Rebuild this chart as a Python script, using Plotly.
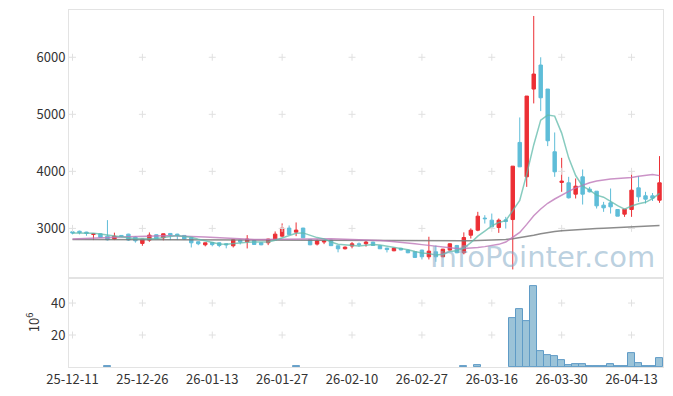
import pandas as pd
import plotly.graph_objects as go
from plotly.subplots import make_subplots

dates = [
    "2025-12-11", "2025-12-12", "2025-12-15", "2025-12-16", "2025-12-17", "2025-12-18", "2025-12-19",
    "2025-12-22", "2025-12-23", "2025-12-24", "2025-12-26", "2025-12-29", "2025-12-30",
    "2026-01-02", "2026-01-05", "2026-01-06", "2026-01-07", "2026-01-08", "2026-01-09",
    "2026-01-12", "2026-01-13", "2026-01-14", "2026-01-15", "2026-01-16", "2026-01-19",
    "2026-01-20", "2026-01-21", "2026-01-22", "2026-01-23", "2026-01-26", "2026-01-27",
    "2026-01-28", "2026-01-29", "2026-01-30", "2026-02-02", "2026-02-03", "2026-02-04",
    "2026-02-05", "2026-02-06", "2026-02-09", "2026-02-10", "2026-02-11", "2026-02-12",
    "2026-02-13", "2026-02-19", "2026-02-20", "2026-02-23", "2026-02-24", "2026-02-25",
    "2026-02-26", "2026-02-27", "2026-03-03", "2026-03-04", "2026-03-05", "2026-03-06",
    "2026-03-09", "2026-03-10", "2026-03-11", "2026-03-12", "2026-03-13", "2026-03-16",
    "2026-03-17", "2026-03-18", "2026-03-19", "2026-03-20", "2026-03-23", "2026-03-24",
    "2026-03-25", "2026-03-26", "2026-03-27", "2026-03-30", "2026-03-31", "2026-04-01",
    "2026-04-02", "2026-04-03", "2026-04-06", "2026-04-07", "2026-04-08", "2026-04-09",
    "2026-04-10", "2026-04-13", "2026-04-14", "2026-04-15", "2026-04-16", "2026-04-17",
]

open_ = [
    2940, 2950, 2935, 2893, 2905, 2864, 2812, 2876, 2899, 2847,
    2736, 2794, 2888, 2835, 2911, 2899, 2876, 2835, 2765, 2712,
    2753, 2747, 2730, 2695, 2794, 2765, 2788, 2747, 2747, 2800,
    2864, 3005, 2934, 3005, 2806, 2724, 2760, 2794, 2695, 2642,
    2690, 2730, 2730, 2759, 2695, 2654, 2607, 2650, 2619, 2589,
    2619, 2502, 2589, 2502, 2619, 2700, 2572, 2880, 2968, 3180,
    3144, 3015, 3150, 3155, 4507, 3904, 5443, 5864, 5443, 4343,
    3805, 3799, 3600, 3904, 3688, 3652, 3407, 3448, 3331, 3249,
    3331, 3711, 3571, 3571, 3494,
]
high = [
    2975, 2960, 2940, 2910, 2910, 3145, 2925, 2880, 2905, 2860,
    2815, 2929, 2895, 2910, 2915, 2905, 2880, 2840, 2770, 2750,
    2760, 2755, 2735, 2812, 2800, 2882, 2795, 2752, 2818, 2946,
    3087, 3051, 3104, 3010, 2810, 2806, 2794, 2800, 2698, 2683,
    2760, 2753, 2782, 2765, 2700, 2660, 2660, 2660, 2625, 2595,
    2625, 2853, 2700, 2640, 2736, 2710, 2930, 3000, 3290, 3231,
    3260, 3173, 3202, 4091, 4945, 5320, 6724, 6000, 5443, 4682,
    4237, 3904, 3875, 4033, 3728, 3652, 3465, 3699, 3331, 3336,
    4003, 3916, 3641, 3620, 4267,
]
low = [
    2895, 2895, 2870, 2795, 2835, 2788, 2795, 2845, 2780, 2750,
    2695, 2765, 2810, 2790, 2795, 2795, 2800, 2665, 2705, 2685,
    2685, 2670, 2650, 2665, 2718, 2648, 2712, 2705, 2706, 2795,
    2852, 2890, 2864, 2830, 2705, 2700, 2724, 2690, 2580, 2630,
    2650, 2677, 2680, 2695, 2640, 2578, 2600, 2615, 2565, 2485,
    2455, 2455, 2414, 2495, 2610, 2565, 2545, 2822, 2950, 3085,
    3000, 2921, 2997, 2280, 4079, 3728, 5191, 5056, 4442, 3904,
    3641, 3524, 3524, 3418, 3630, 3348, 3290, 3260, 3214, 3202,
    3202, 3465, 3436, 3480, 3448,
]
close = [
    2920, 2925, 2912, 2905, 2842, 2800, 2864, 2855, 2795, 2782,
    2812, 2882, 2818, 2905, 2882, 2877, 2812, 2747, 2730, 2747,
    2715, 2700, 2712, 2800, 2760, 2812, 2718, 2712, 2812, 2899,
    3005, 2893, 2970, 2835, 2712, 2782, 2780, 2697, 2642, 2671,
    2730, 2715, 2760, 2700, 2642, 2628, 2654, 2622, 2572, 2490,
    2502, 2601, 2502, 2636, 2730, 2572, 2840, 2968, 3214, 3170,
    3026, 3144, 3120, 4091, 4079, 5320, 5706, 5290, 4536, 3992,
    3829, 3536, 3740, 3600, 3641, 3395, 3360, 3378, 3214, 3336,
    3670, 3553, 3512, 3530, 3799,
]
ma20 = [
    2815, 2818, 2822, 2826, 2831, 2836, 2842, 2848, 2854, 2860,
    2864, 2868, 2871, 2872, 2872, 2870, 2866, 2860, 2854, 2847,
    2840, 2833, 2826, 2818, 2812, 2809, 2807, 2807, 2809, 2812,
    2815, 2818, 2820, 2822, 2822, 2821, 2820, 2818, 2815, 2812,
    2809, 2805, 2800, 2795, 2789, 2780, 2770, 2758, 2745, 2730,
    2715, 2700, 2684, 2668, 2655, 2647, 2645, 2652, 2665, 2680,
    2698, 2720, 2760, 2840, 2930, 3070, 3220, 3340, 3440, 3515,
    3590, 3650, 3710, 3760, 3800, 3832, 3852, 3866, 3873, 3878,
    3892, 3912, 3932, 3945, 3925,
]
ma60 = [
    2805, 2805, 2805, 2805, 2805, 2805, 2805, 2804, 2804, 2804,
    2804, 2804, 2804, 2803, 2803, 2803, 2803, 2802, 2802, 2802,
    2801, 2800, 2799, 2798, 2797, 2796, 2795, 2795, 2794, 2794,
    2794, 2794, 2794, 2793, 2793, 2792, 2791, 2790, 2789, 2788,
    2787, 2786, 2785, 2785, 2784, 2784, 2783, 2783, 2782, 2782,
    2781, 2781, 2780, 2780, 2780, 2780, 2781, 2783, 2786, 2790,
    2795, 2800, 2806, 2818, 2835, 2855, 2880, 2905, 2928, 2945,
    2958, 2968, 2976, 2984, 2991, 2997, 3002, 3008, 3013, 3018,
    3025, 3032, 3038, 3045, 3052,
]
volume_m = [
    0, 0, 0, 0, 0, 0.6, 0, 0, 0, 0,
    0, 0, 0, 0, 0, 0, 0, 0, 0, 0,
    0, 0, 0, 0, 0, 0, 0, 0, 0, 0,
    0, 0, 0.5, 0, 0, 0, 0, 0, 0, 0,
    0, 0, 0, 0, 0, 0, 0, 0, 0, 0,
    0, 0, 0, 0, 0, 0, 0.6, 0, 1.2, 0,
    0, 0, 0, 30.4, 36.0, 28.8, 50.6, 10.1, 7.6, 7.0,
    4.4, 1.3, 1.7, 1.7, 0.5, 0.5, 0.5, 1.7, 0.5, 0.5,
    8.6, 2.4, 0.5, 0.5, 5.5,
]

tick_dates = ["2025-12-11", "2025-12-26", "2026-01-13", "2026-01-27", "2026-02-10",
              "2026-02-27", "2026-03-16", "2026-03-30", "2026-04-13"]
tick_text = [d[2:] for d in tick_dates]
price_ticks = [3000, 4000, 5000, 6000]
vol_ticks = [20, 40]

ma5 = pd.Series(close).rolling(5, min_periods=1).mean().tolist()
vol_plot = [v if v > 0 else None for v in volume_m]

FONT = "Noto Sans CJK KR"
GRID = "#e0e0e0"
FRAME = "#e3e3e3"

fig = make_subplots(rows=2, cols=1, shared_xaxes=True, vertical_spacing=0,
                    row_heights=[0.751, 0.249])

fig.add_trace(go.Candlestick(
    x=dates, open=open_, high=high, low=low, close=close,
    increasing=dict(line=dict(color="#ec2f35", width=1), fillcolor="#ec2f35"),
    decreasing=dict(line=dict(color="#5fbdd8", width=1), fillcolor="#5fbdd8"),
    whiskerwidth=0, showlegend=False, name="price"), row=1, col=1)

fig.add_trace(go.Bar(x=dates, y=vol_plot, showlegend=False,
                     marker=dict(color="rgba(150,192,214,0.95)",
                                 line=dict(color="rgba(95,155,198,1)", width=1))),
              row=2, col=1)

# grid crosses at tick intersections
gx, gy = [], []
for d in tick_dates:
    for v in price_ticks:
        gx.append(d)
        gy.append(v)
fig.add_trace(go.Scatter(x=gx, y=gy, mode="markers", hoverinfo="skip", showlegend=False,
                         marker=dict(symbol="cross-thin", size=5, line=dict(color=GRID, width=1))),
              row=1, col=1)
vx, vy = [], []
for d in tick_dates:
    for v in vol_ticks:
        vx.append(d)
        vy.append(v)
fig.add_trace(go.Scatter(x=vx, y=vy, mode="markers", hoverinfo="skip", showlegend=False,
                         marker=dict(symbol="cross-thin", size=5, line=dict(color=GRID, width=1))),
              row=2, col=1)

fig.add_trace(go.Scatter(x=dates, y=ma60, mode="lines", showlegend=False,
                         line=dict(color="rgba(120,120,120,0.85)", width=1.5)), row=1, col=1)
fig.add_trace(go.Scatter(x=dates, y=ma20, mode="lines", showlegend=False,
                         line=dict(color="rgba(190,120,185,0.8)", width=1.5)), row=1, col=1)
fig.add_trace(go.Scatter(x=dates, y=ma5, mode="lines", showlegend=False,
                         line=dict(color="rgba(95,185,170,0.75)", width=1.5)), row=1, col=1)

fig.add_annotation(text="InfoPointer.com", xref="paper", yref="paper",
                   x=1.0, y=0.255, xanchor="right", yanchor="bottom",
                   xshift=-6, showarrow=False,
                   font=dict(family="DejaVu Sans", size=29, color="rgba(130,170,198,0.55)"))

axis_common = dict(showgrid=False, zeroline=False, showline=True, linecolor=FRAME,
                   linewidth=1, mirror=True, ticks="", automargin=False)

fig.update_xaxes(type="category", categoryorder="array", categoryarray=dates,
                 range=[-0.5, 84.5], rangeslider_visible=False, tickangle=0,
                 tickvals=tick_dates, ticktext=tick_text, **axis_common)
fig.update_xaxes(showticklabels=False, row=1, col=1)
fig.update_yaxes(range=[2128, 6829], tickvals=price_ticks, **axis_common, row=1, col=1)
fig.update_yaxes(range=[0, 55.6], tickvals=vol_ticks, **axis_common, row=2, col=1,
                 title=dict(text="10<sup>6</sup>", standoff=8,
                            font=dict(family=FONT, size=13, color="#333")))

# the page body adds an 8 px offset, so margins are shifted accordingly
fig.update_layout(
    width=673, height=396,
    margin=dict(l=61, r=18, t=2, b=37, autoexpand=False),
    paper_bgcolor="white", plot_bgcolor="white",
    bargap=0,
    font=dict(family=FONT, size=13, color="#333"),
    showlegend=False,
)

fig.write_html("out.html")
